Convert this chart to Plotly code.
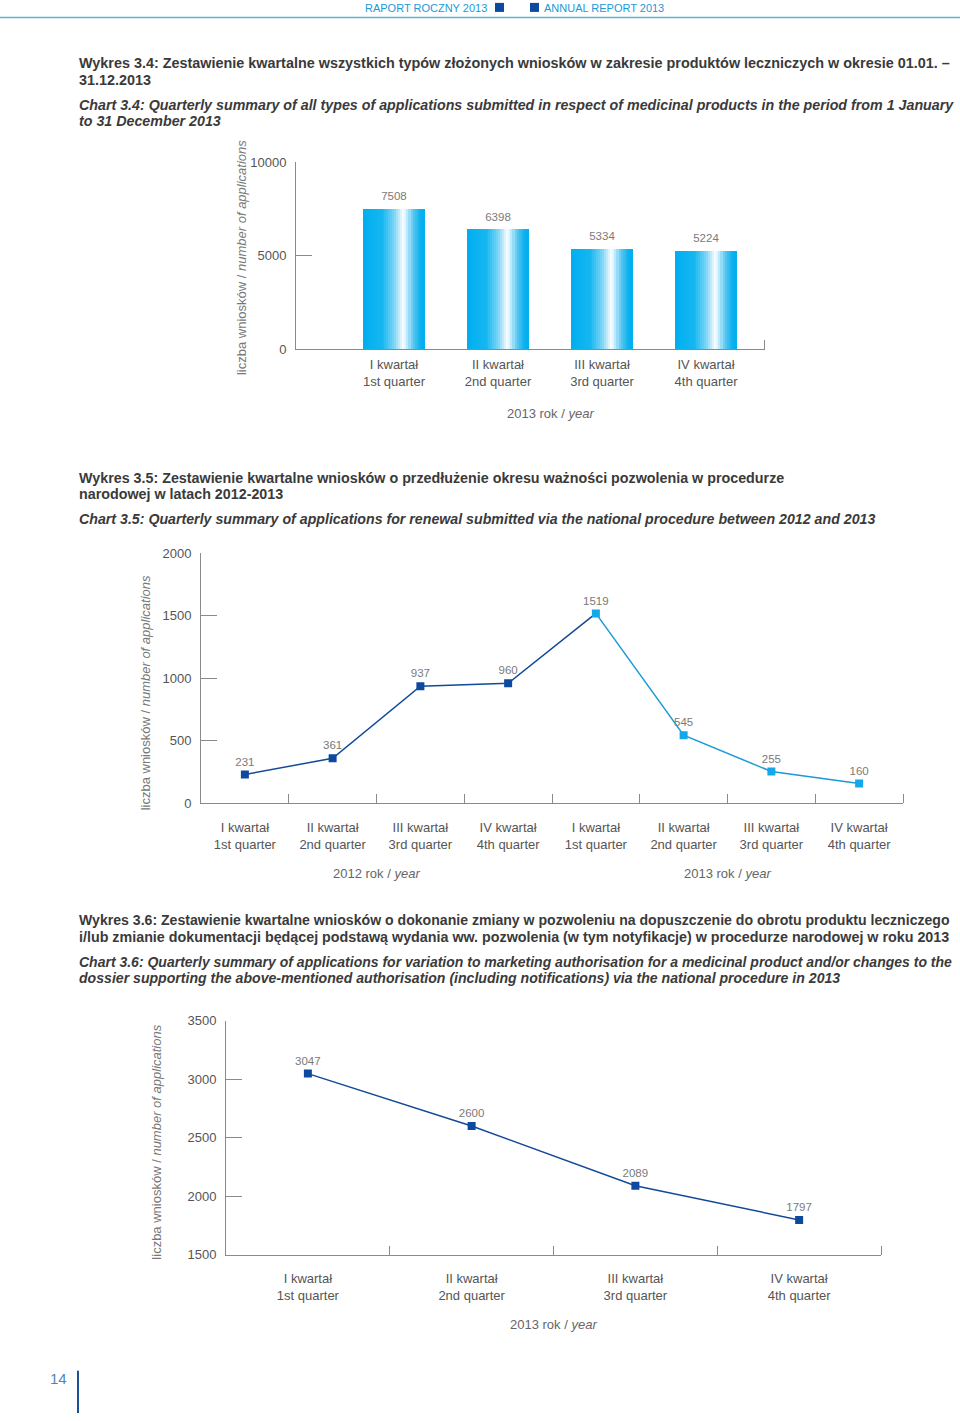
import plotly.graph_objects as go

# ---------------- data ----------------
quarters_pl = ["I kwartał", "II kwartał", "III kwartał", "IV kwartał"]
quarters_en = ["1st quarter", "2nd quarter", "3rd quarter", "4th quarter"]
quarter_labels = [f"{p}<br>{e}" for p, e in zip(quarters_pl, quarters_en)]

all_apps_2013 = [7508, 6398, 5334, 5224]          # chart 3.4
renewal_2012 = [231, 361, 937, 960]               # chart 3.5
renewal_2013 = [1519, 545, 255, 160]
variation_2013 = [3047, 2600, 2089, 1797]         # chart 3.6

W, H = 960, 1421
# page rendering maps figure y -> 7.1 + 0.9888*y ; compensate so positions match target pixels
def px(x): return x / W
def py(y): return 1 - ((y - 7.1) / 0.9888) / H

FONT = "Liberation Sans, Arial, Helvetica, sans-serif"
TICK_C = "#555555"
AXIS_C = "#8a8a8a"
VAL_C = "#7a7a7a"
DARK = "#124a98"
DARK_M = "#0d4a9e"
LIGHT = "#1b9ad6"
LIGHT_M = "#12a8ea"

fig = go.Figure()

# ---------------- chart 3.4 : gradient bars ----------------
bar_w = 0.596
stops = [(0.0, (0, 174, 239)), (0.3, (20, 182, 241)), (0.5, (120, 212, 246)),
         (0.66, (255, 255, 255)), (0.8, (90, 200, 244)), (0.92, (10, 178, 240)), (1.0, (0, 174, 239))]
def grad(t):
    for (t0, c0), (t1, c1) in zip(stops[:-1], stops[1:]):
        if t0 <= t <= t1:
            f = (t - t0) / (t1 - t0) if t1 > t0 else 0
            return "rgb(%d,%d,%d)" % tuple(round(a + (b - a) * f) for a, b in zip(c0, c1))
    return "rgb(0,174,239)"

N = 30
xs1 = list(range(len(all_apps_2013)))
for i in range(N):
    fig.add_trace(go.Bar(
        x=xs1, y=all_apps_2013, width=bar_w / N * 1.02, offset=-bar_w / 2 + i * bar_w / N,
        marker=dict(color=grad((i + 0.5) / N), line=dict(width=0)),
        xaxis="x", yaxis="y", showlegend=False, hoverinfo="skip"))
fig.add_trace(go.Scatter(
    x=xs1, y=all_apps_2013, mode="markers+text", text=[str(v) for v in all_apps_2013],
    marker=dict(size=8, opacity=0),
    textposition="top center", textfont=dict(size=11.5, color=VAL_C, family=FONT),
    xaxis="x", yaxis="y", showlegend=False))

# ---------------- chart 3.5 : renewal ----------------
xs2a = list(range(4))
xs2b = list(range(4, 8))
fig.add_trace(go.Scatter(
    x=xs2a + [xs2b[0]], y=renewal_2012 + [renewal_2013[0]], mode="lines",
    line=dict(color=DARK, width=1.5), xaxis="x2", yaxis="y2", showlegend=False))
fig.add_trace(go.Scatter(
    x=xs2b, y=renewal_2013, mode="lines+markers+text", text=[str(v) for v in renewal_2013],
    textposition="top center", textfont=dict(size=11.5, color=VAL_C, family=FONT),
    line=dict(color=LIGHT, width=1.5), marker=dict(symbol="square", size=8, color=LIGHT_M),
    xaxis="x2", yaxis="y2", showlegend=False))
fig.add_trace(go.Scatter(
    x=xs2a, y=renewal_2012, mode="markers+text", text=[str(v) for v in renewal_2012],
    textposition="top center", textfont=dict(size=11.5, color=VAL_C, family=FONT),
    marker=dict(symbol="square", size=8, color=DARK_M),
    xaxis="x2", yaxis="y2", showlegend=False))

# ---------------- chart 3.6 : variations ----------------
xs3 = list(range(4))
fig.add_trace(go.Scatter(
    x=xs3, y=variation_2013, mode="lines+markers+text", text=[str(v) for v in variation_2013],
    textposition="top center", textfont=dict(size=11.5, color=VAL_C, family=FONT),
    line=dict(color=DARK, width=1.5), marker=dict(symbol="square", size=8, color=DARK_M),
    xaxis="x3", yaxis="y3", showlegend=False))

tickfont = dict(size=13, color=TICK_C, family=FONT)
def yax(domain, rng, dtick, anchor):
    return dict(domain=domain, range=rng, dtick=dtick, tick0=rng[0], showgrid=False, zeroline=False,
                showline=True, linecolor=AXIS_C, linewidth=1, ticks="inside", ticklen=16,
                tickcolor=AXIS_C, tickfont=tickfont, anchor=anchor, ticklabelstandoff=6,
                tickformat="d")
def xax(domain, rng, n, anchor, minor_vals, standoff):
    return dict(domain=domain, range=rng, tickvals=list(range(n)),
                ticktext=(quarter_labels * 2)[:n], showgrid=False, zeroline=False,
                showline=True, linecolor=AXIS_C, linewidth=1, ticks="", tickfont=tickfont,
                anchor=anchor, ticklabelstandoff=standoff,
                minor=dict(tickvals=minor_vals, ticks="inside", ticklen=9, tickcolor=AXIS_C, showgrid=False))

fig.update_layout(
    width=W, height=H, margin=dict(l=0, r=0, t=0, b=0),
    paper_bgcolor="white", plot_bgcolor="white", barmode="overlay", bargap=0,
    font=dict(family=FONT, color=TICK_C),
    xaxis=xax([px(296), px(765)], [-0.942, 3.567], 4, "y", [3.562], 3),
    yaxis=yax([py(349), py(162)], [0, 10000], 5000, "x"),
    xaxis2=xax([px(201), px(903)], [-0.5, 7.5], 8, "y2", [0.5, 1.5, 2.5, 3.5, 4.5, 5.5, 6.5, 7.5], 12),
    yaxis2=yax([py(803), py(553)], [0, 2000], 500, "x2"),
    xaxis3=xax([px(226), px(881)], [-0.5, 3.5], 4, "y3", [0.5, 1.5, 2.5, 3.5], 12),
    yaxis3=yax([py(1254), py(1020)], [1500, 3500], 500, "x3"),
)

ann = []
def text(x, y, s, size=13, color="#333", xanchor="left", family=FONT, **kw):
    ann.append(dict(x=px(x), y=py(y), xref="paper", yref="paper", text=s, showarrow=False,
                    xanchor=xanchor, yanchor="middle", font=dict(size=size, color=color, family=family), **kw))

TITLE_C = "#3a3a3a"
TX = 76.5
text(TX, 63, "<b>Wykres 3.4: Zestawienie kwartalne wszystkich typów złożonych wniosków w zakresie produktów leczniczych w okresie 01.01. –</b>", 14.4, TITLE_C)
text(TX, 80, "<b>31.12.2013</b>", 14.4, TITLE_C)
text(TX, 105, "<b><i>Chart 3.4: Quarterly summary of all types of applications submitted in respect of medicinal products in the period from 1 January</i></b>", 14.25, TITLE_C)
text(TX, 121, "<b><i>to 31 December 2013</i></b>", 14.25, TITLE_C)

text(TX, 478, "<b>Wykres 3.5: Zestawienie kwartalne wniosków o przedłużenie okresu ważności pozwolenia w procedurze</b>", 14.3, TITLE_C)
text(TX, 494, "<b>narodowej w latach 2012-2013</b>", 14.3, TITLE_C)
text(TX, 519, "<b><i>Chart 3.5: Quarterly summary of applications for renewal submitted via the national procedure between 2012 and 2013</i></b>", 14.2, TITLE_C)

text(TX, 920, "<b>Wykres 3.6: Zestawienie kwartalne wniosków o dokonanie zmiany w pozwoleniu na dopuszczenie do obrotu produktu leczniczego</b>", 14.1, TITLE_C)
text(TX, 936, "<b>i/lub zmianie dokumentacji będącej podstawą wydania ww. pozwolenia (w tym notyfikacje) w procedurze narodowej w roku 2013</b>", 14.3, TITLE_C)
text(TX, 961, "<b><i>Chart 3.6: Quarterly summary of applications for variation to marketing authorisation for a medicinal product and/or changes to the</i></b>", 14.0, TITLE_C)
text(TX, 977, "<b><i>dossier supporting the above-mentioned authorisation (including notifications) via the national procedure in 2013</i></b>", 14.1, TITLE_C)

# header
text(489, 8, "RAPORT ROCZNY 2013", 11, "#1a9ad6", xanchor="right")
text(542, 8, "ANNUAL REPORT 2013", 11, "#1a9ad6")
# page number
text(69, 1378, "14", 15, "#4f86b4", xanchor="right")

# y-axis titles
ytitle = "liczba wniosków / <i>number of applications</i>"
for xx, yy in [(241, 258), (145, 693), (157, 1142)]:
    ann.append(dict(x=px(xx), y=py(yy), xref="paper", yref="paper", text=ytitle, textangle=-90,
                    showarrow=False, xanchor="center", yanchor="middle",
                    font=dict(size=13, color="#777", family=FONT)))

# group titles
yr = lambda y: f"{y} rok / <i>year</i>"
for xv, xr, yv, label in [(1.5, "x", 413, 2013), (1.5, "x2", 873, 2012), (5.5, "x2", 873, 2013), (1.5, "x3", 1324, 2013)]:
    ann.append(dict(x=xv, y=py(yv), xref=xr, yref="paper", text=yr(label), showarrow=False,
                    yanchor="middle", font=dict(size=13, color="#666", family=FONT)))
fig.update_layout(annotations=ann)

shapes = [
    dict(type="line", xref="paper", yref="paper", x0=0, x1=1, y0=py(17.5), y1=py(17.5),
         line=dict(color="#5bb5d5", width=1.5)),
    dict(type="rect", xref="paper", yref="paper", x0=px(495), x1=px(504), y0=py(12), y1=py(3),
         fillcolor="#0d4a9e", line=dict(width=0)),
    dict(type="rect", xref="paper", yref="paper", x0=px(530), x1=px(539), y0=py(12), y1=py(3),
         fillcolor="#0d4a9e", line=dict(width=0)),
    dict(type="line", xref="paper", yref="paper", x0=px(78), x1=px(78), y0=py(1370), y1=0,
         line=dict(color="#1c4f96", width=2)),
]
fig.update_layout(shapes=shapes)

fig.write_html("out.html", config={"displayModeBar": False},
               post_script="document.body.style.margin='0px';document.body.style.padding='0px';"
                           "document.documentElement.style.overflow='hidden';")
